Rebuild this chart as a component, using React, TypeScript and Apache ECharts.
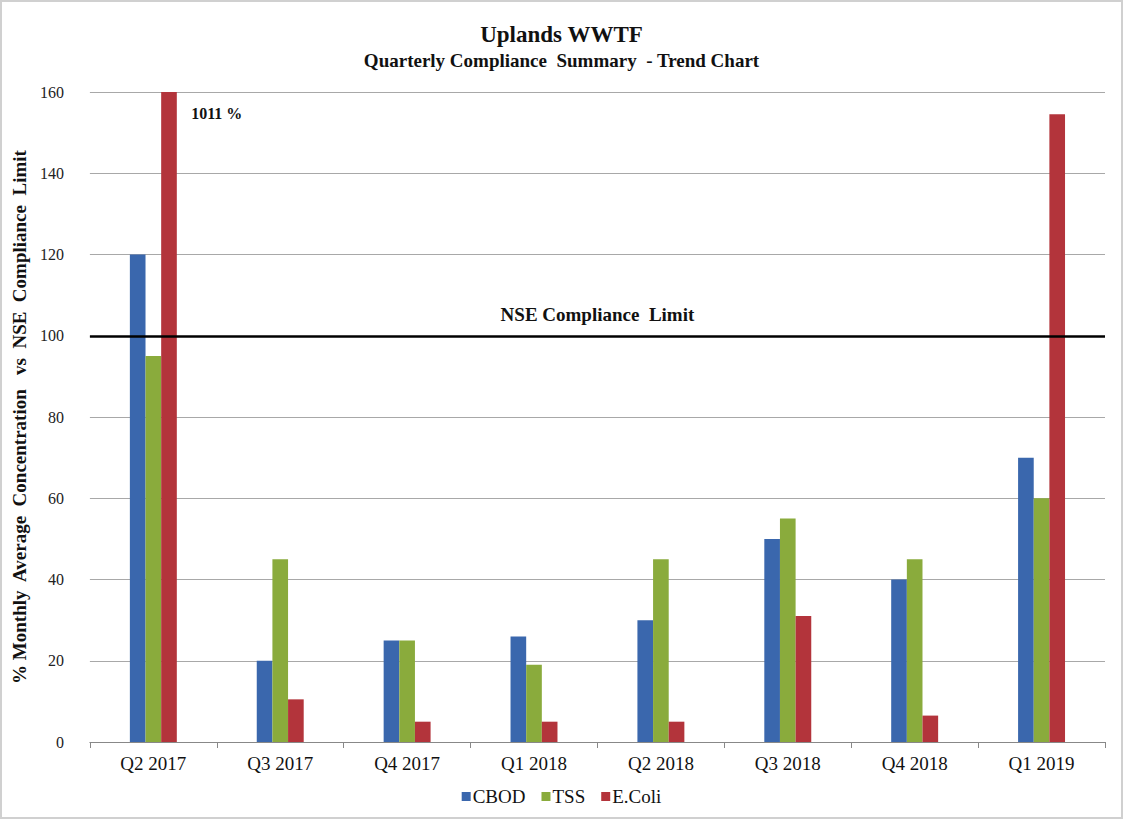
import React, { useEffect, useRef } from "react";
import * as echarts from "echarts";

const categories = ["Q2 2017", "Q3 2017", "Q4 2017", "Q1 2018", "Q2 2018", "Q3 2018", "Q4 2018", "Q1 2019"];
const cbod = [120, 20, 25, 26, 30, 50, 40, 70];
const tss = [95, 45, 25, 19, 45, 55, 45, 60];
const ecoli = [1011, 10.5, 5, 5, 5, 31, 6.5, 154.5];
const yTicks = { min: 0, max: 160, interval: 20 };
const limitValue = 100;
const limitLabel = "NSE Compliance  Limit";

const SERIF = "'Liberation Serif', 'Times New Roman', serif";

export default function App() {
  const ref = useRef<HTMLDivElement>(null);
  useEffect(() => {
    if (!ref.current) return;
    const chart = echarts.init(ref.current, undefined, { renderer: "svg" });
    chart.setOption({
      animation: false,
      backgroundColor: "#ffffff",
      title: {
        text: "Uplands WWTF",
        subtext: "Quarterly Compliance  Summary  - Trend Chart",
        left: "center",
        top: 16,
        itemGap: 5,
        textStyle: { fontFamily: SERIF, fontWeight: "bold", fontSize: 23, color: "#111" },
        subtextStyle: { fontFamily: SERIF, fontWeight: "bold", fontSize: 19, color: "#111" },
      },
      legend: {
        bottom: 6,
        left: "center",
        itemWidth: 9,
        itemHeight: 9,
        itemGap: 16,
        icon: "rect",
        textStyle: { fontFamily: SERIF, fontSize: 19, color: "#111", padding: [0, 0, 0, -3] },
        data: ["CBOD", "TSS", "E.Coli"],
      },
      grid: { left: 84, right: 16, top: 90, bottom: 75 },
      xAxis: {
        type: "category",
        data: categories,
        axisLine: { lineStyle: { color: "#888", width: 1 } },
        axisTick: { show: true, alignWithLabel: false, length: 6, lineStyle: { color: "#888" } },
        axisLabel: { fontFamily: SERIF, fontSize: 19, color: "#111", margin: 12 },
      },
      yAxis: {
        type: "value",
        min: yTicks.min,
        max: yTicks.max,
        interval: yTicks.interval,
        name: "% Monthly  Average  Concentration   vs  NSE  Compliance  Limit",
        nameLocation: "middle",
        nameGap: 60,
        nameTextStyle: { fontFamily: SERIF, fontWeight: "bold", fontSize: 19, color: "#111" },
        axisLine: { show: false },
        axisTick: { show: false },
        axisLabel: { fontFamily: SERIF, fontSize: 16, color: "#222", margin: 26 },
        splitLine: { lineStyle: { color: "#a8a8a8", width: 1 } },
      },
      series: [
        {
          name: "CBOD",
          type: "bar",
          data: cbod,
          barGap: "0%",
          barCategoryGap: "63%",
          itemStyle: { color: "#3a67ad" },
          markLine: {
            silent: true,
            symbol: "none",
            lineStyle: { color: "#000", width: 2.5, type: "solid" },
            label: {
              show: true,
              position: "middle",
              formatter: limitLabel,
              fontFamily: SERIF,
              fontWeight: "bold",
              fontSize: 19,
              color: "#111",
              distance: 12,
            },
            data: [{ yAxis: limitValue }],
          },
        },
        {
          name: "TSS",
          type: "bar",
          data: tss,
          itemStyle: { color: "#8aab3c" },
        },
        {
          name: "E.Coli",
          type: "bar",
          data: ecoli.map((v, i) =>
            i === 0
              ? {
                  value: v,
                  label: {
                    show: true,
                    position: [30, 21],
                    formatter: "{c} %",
                    fontFamily: SERIF,
                    fontWeight: "bold",
                    fontSize: 16,
                    color: "#111",
                    verticalAlign: "middle",
                  },
                }
              : v
          ),
          itemStyle: { color: "#b3343b" },
        },
      ],
    });
    return () => chart.dispose();
  }, []);
  return (
    <div
      style={{
        position: "absolute",
        left: 0,
        top: 0,
        width: 1123,
        height: 819,
        boxSizing: "border-box",
        border: "2px solid #d0d0d0",
      }}
    >
      <div ref={ref} style={{ width: "100%", height: "100%" }} />
    </div>
  );
}
